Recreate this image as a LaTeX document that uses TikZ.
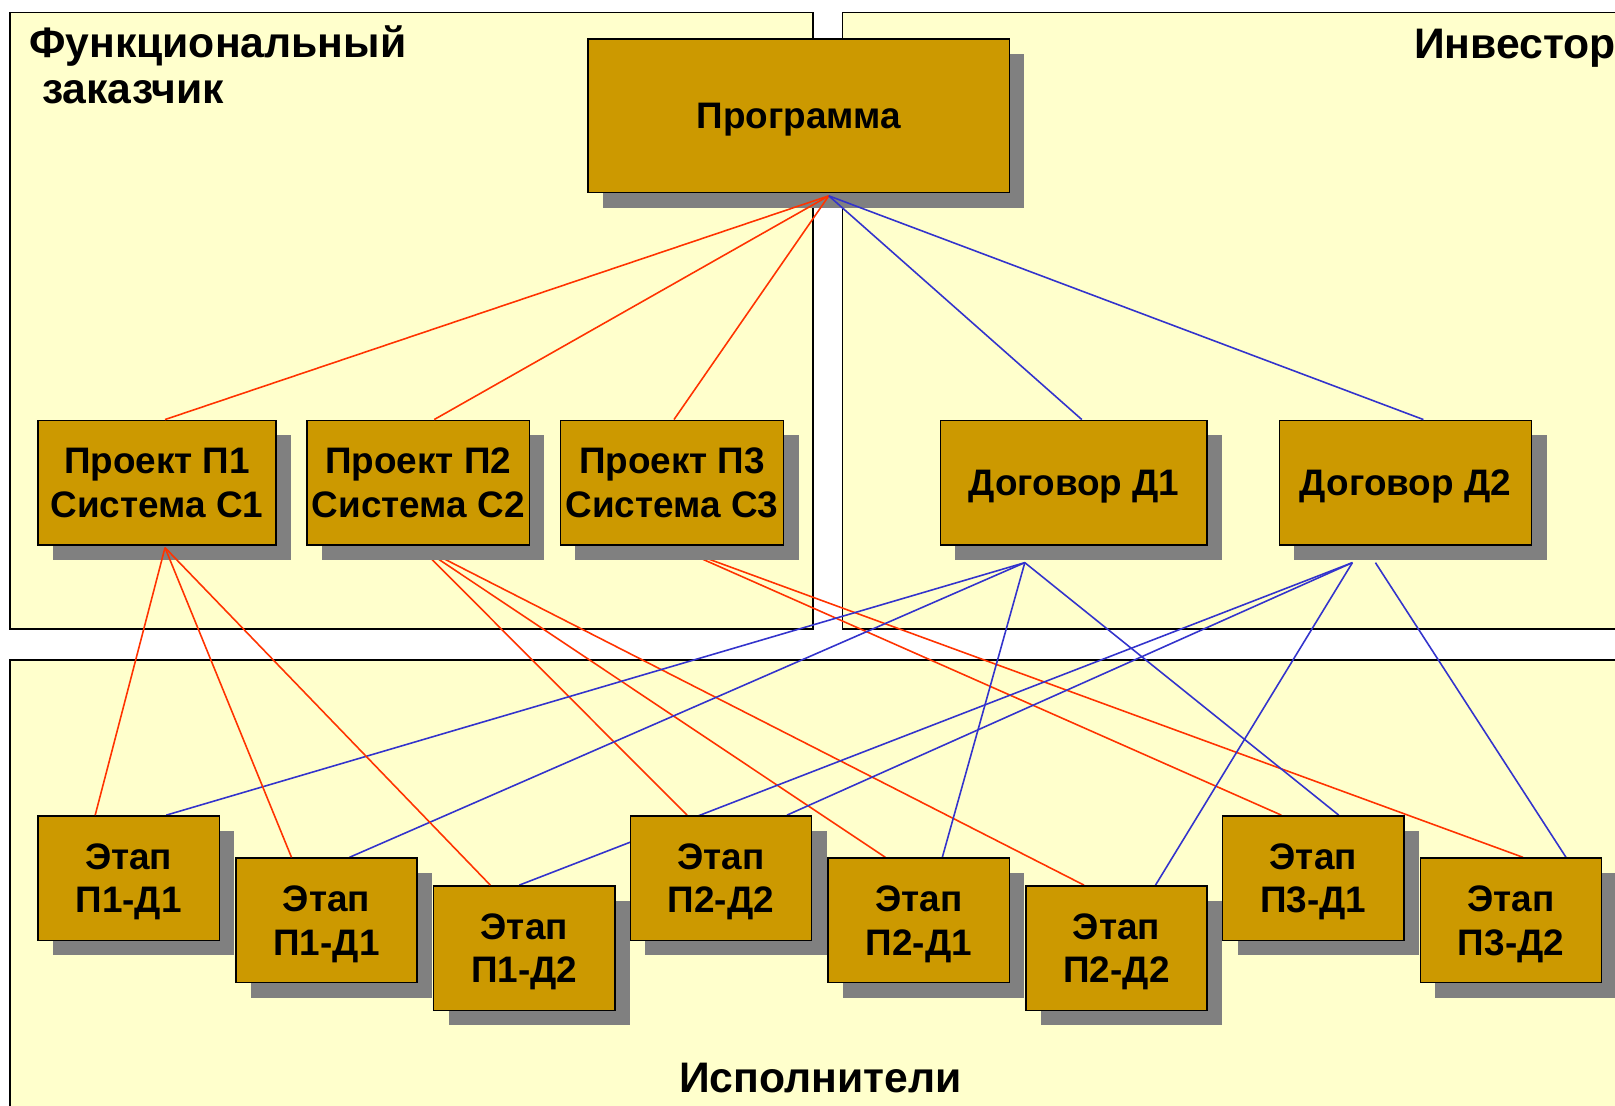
\documentclass[tikz,border=0pt]{standalone}
\usepackage{fontspec}
\setmainfont{Liberation Sans}
\usetikzlibrary{calc,shadows}
\definecolor{panelfill}{HTML}{FFFFCC}
\definecolor{boxfill}{HTML}{CC9900}
\definecolor{shadowgray}{HTML}{808080}
\definecolor{linkred}{HTML}{FF3300}
\definecolor{linkblue}{HTML}{3333CC}
\pgfdeclarelayer{panels}
\pgfdeclarelayer{wires}
\pgfsetlayers{panels,wires,main}

\begin{document}
\begin{tikzpicture}[x=0.02cm,y=-0.02cm,
  box/.style={draw=black,line width=0.8pt,fill=boxfill,inner sep=0pt,align=center,text depth=0pt,
    font=\fontsize{21}{25}\selectfont\bfseries,
    drop shadow={fill=shadowgray,opacity=1,shadow xshift=0.3cm,shadow yshift=-0.3cm}},
  stage/.style={box,minimum width=3.626cm,minimum height=2.492cm},
  panel/.style={draw=black,line width=1pt,fill=panelfill},
  title/.style={font=\fontsize{24.3}{29}\selectfont\bfseries,inner sep=0pt},
  redlink/.style={draw=linkred,line width=0.9pt},
  bluelink/.style={draw=linkblue,line width=0.9pt}]
\useasboundingbox (0,0) rectangle (1615,1105);
\begin{pgfonlayer}{panels}
\fill[white] (0,0) rectangle (1615,1105);
\draw[panel] (10.3,12.4) rectangle (812.7,629.3);
\draw[panel] (842.5,12.4) rectangle (1640,629.3);
\draw[panel] (10.3,660.2) rectangle (1640,1130);
\end{pgfonlayer}

\node[title,anchor=base west] (fz) at (28.8,57.5) {Функциональный};
\node[title,anchor=base west] (zk) at (41.8,103.5) {заказчик};
\node[title,anchor=base east] (inv) at (1616,58.3) {Инвестор};
\node[title,anchor=base] (isp) at (820.4,1092) {Исполнители};

\node[box,minimum width=8.426cm,minimum height=3.07cm] (prog) at (798.8,115.9) {Программа};
\node[box,minimum width=4.76cm,minimum height=2.494cm] (p1) at (157,482.6) {Проект П1\\Система С1};
\node[box,minimum width=4.45cm,minimum height=2.494cm] (p2) at (418.2,482.6) {Проект П2\\Система С2};
\node[box,minimum width=4.47cm,minimum height=2.494cm] (p3) at (672,482.6) {Проект П3\\Система С3};
\node[box,minimum width=5.336cm,minimum height=2.494cm] (d1) at (1073.8,482.6) {Договор Д1};
\node[box,minimum width=5.046cm,minimum height=2.494cm] (d2) at (1405.4,482.6) {Договор Д2};
\foreach \i/\cx/\cy/\t in {1/128.7/878.1/П1-Д1,2/326.5/920.3/П1-Д1,3/524.3/948.1/П1-Д2,
    4/721/878.1/П2-Д2,5/918.8/920.3/П2-Д1,6/1116.5/948.1/П2-Д2,7/1313.3/878.1/П3-Д1,8/1511/920.3/П3-Д2}
  \node[stage] (e\i) at (\cx,\cy) {Этап\\\t};

\coordinate (progout) at ($(prog.south)+(30,2.5)$);
\coordinate (p1out) at ($(p1.south)+(8,2)$);
\coordinate (d1out) at ($(d1.south)+(-49,17)$);
\coordinate (d2outa) at ($(d2.south)+(-53,17)$);
\coordinate (d2outb) at ($(d2.south)+(-30,17)$);

\begin{pgfonlayer}{wires}
\foreach \e/\dx in {4/-34,5/-33.5,6/-32.5}
  \draw[redlink] (p2.south) -- ($(e\e.north)+(\dx,0)$);
\foreach \e/\dx in {7/-32,8/12}
  \draw[redlink] (p3.south) -- ($(e\e.north)+(\dx,0)$);
\foreach \e/\dx in {1/37.6,2/23,5/23.5,7/25.4}
  \draw[bluelink] (d1out) -- ($(e\e.north)+(\dx,0)$);
\foreach \e/\dx in {3/-5,4/66,6/39}
  \draw[bluelink] (d2outa) -- ($(e\e.north)+(\dx,0)$);
\draw[bluelink] (d2outb) -- ($(e8.north)+(55,0)$);
\end{pgfonlayer}

\foreach \p/\dx in {p1/8,p2/16,p3/2}
  \draw[redlink] (progout) -- ($(\p.north)+(\dx,0)$);
\foreach \p/\dx in {d1/8,d2/18}
  \draw[bluelink] (progout) -- ($(\p.north)+(\dx,0)$);
\foreach \e/\dx in {1/-33.5,2/-35,3/-34}
  \draw[redlink] (p1out) -- ($(e\e.north)+(\dx,0)$);
\end{tikzpicture}
\end{document}
